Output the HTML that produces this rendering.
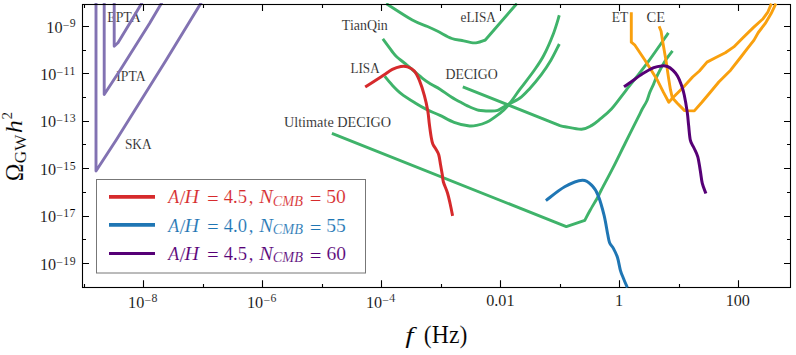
<!DOCTYPE html><html><head><meta charset="utf-8"><style>html,body{margin:0;padding:0;background:#fff;width:796px;height:355px;overflow:hidden}svg{display:block}text{font-family:"Liberation Serif",serif;stroke:#fff;stroke-width:0.13px}</style></head><body>
<svg width="796" height="355" viewBox="0 0 796 355">
<rect width="796" height="355" fill="#fff"/>
<text transform="translate(107.2 21.9) scale(0.98 1.03)" font-size="14.1" fill="#1a1a1a">EPTA</text>
<text transform="translate(116.31 81) scale(0.97 1.03)" font-size="14.1" fill="#1a1a1a">IPTA</text>
<text transform="translate(124.91 148.8) scale(0.95 1.03)" font-size="14.1" fill="#1a1a1a">SKA</text>
<text transform="translate(341.85 29.8) scale(0.99 1.03)" font-size="14.1" fill="#1a1a1a">TianQin</text>
<text transform="translate(460.58 21.8) scale(0.94 1.03)" font-size="14.1" fill="#1a1a1a">eLISA</text>
<text transform="translate(350.47 72.8) scale(0.93 1.03)" font-size="14.1" fill="#1a1a1a">LISA</text>
<text transform="translate(445.5 78.5) scale(0.98 1.03)" font-size="14.1" fill="#1a1a1a">DECIGO</text>
<text transform="translate(283.9 126.6) scale(1.01 1.03)" font-size="14.1" fill="#1a1a1a">Ultimate DECIGO</text>
<text transform="translate(611.71 21.5) scale(0.96 1.03)" font-size="14.1" fill="#1a1a1a">ET</text>
<text transform="translate(646.61 21.5) scale(1.03 1.03)" font-size="14.1" fill="#1a1a1a">CE</text>
<rect x="96.5" y="179.5" width="269" height="93.5" fill="#fff" stroke="#777" stroke-width="1"/>
<defs><clipPath id="cp"><rect x="82" y="3" width="709" height="285"/></clipPath></defs>
<g clip-path="url(#cp)" fill="none" stroke-linecap="butt">
<path d="M96 2.5 L96 171 L116.2 140 L166.2 60 L201.3 2.5" stroke="#8272b2" stroke-width="2.9" stroke-linejoin="round"/>
<path d="M104.2 2.5 L104.2 94.5 L120.4 69.8 L149.5 23.4 L161.9 2.5" stroke="#8272b2" stroke-width="2.9" stroke-linejoin="round"/>
<path d="M114.2 2.5 L114.2 46.3 L118 42.8 L130.4 22.3 L142.1 2.5" stroke="#8272b2" stroke-width="2.9" stroke-linejoin="round"/>
<path d="M386.1 3.5 C390.47 6.25 405.4 16.17 412.3 20 C419.2 23.83 423.27 24.62 427.5 26.5 C431.73 28.38 433.65 29.3 437.7 31.3 C441.75 33.3 447.75 36.97 451.8 38.5 C455.85 40.03 458.75 39.82 462 40.5 C465.25 41.18 468.77 42.25 471.3 42.6 C473.83 42.95 474.87 43.03 477.2 42.6 C479.53 42.17 483.95 40.43 485.3 40 L485.3 40 L516.9 3.5" stroke="#3fb36a" stroke-width="2.9" stroke-linejoin="round"/>
<path d="M382.8 38.9 C384.3 40.92 389.45 47.98 391.8 51 C394.15 54.02 394.65 54.88 396.9 57 C399.15 59.12 401.08 60.18 405.3 63.7 C409.52 67.22 417.97 74.72 422.2 78.1 C426.43 81.48 427.73 82.15 430.7 84 C433.67 85.85 436.57 87.05 440 89.2 C443.43 91.35 447.55 94.57 451.3 96.9 C455.05 99.23 459.22 101.43 462.5 103.2 C465.78 104.97 468.3 106.32 471 107.5 C473.7 108.68 477.42 109.83 478.7 110.3 L478.7 110.3 C480.47 110.42 486.13 111 489.3 111 C492.47 111 494.88 111.23 497.7 110.3 C500.52 109.37 502.55 107.4 506.2 105.4 C509.85 103.4 515.73 101.05 519.6 98.3 C523.47 95.55 525.78 92.85 529.4 88.9 C533.02 84.95 537.72 79.38 541.3 74.6 C544.88 69.82 547.9 65.3 550.9 60.2 C553.9 55.1 557.9 46.7 559.3 44" stroke="#3fb36a" stroke-width="2.9" stroke-linejoin="round"/>
<path d="M384.7 76.2 C385.8 77.52 388.57 81.2 391.3 84.1 C394.03 87 397.12 90.45 401.1 93.6 C405.08 96.75 410.97 100.37 415.2 103 C419.43 105.63 422.37 107.33 426.5 109.4 C430.63 111.47 435.4 113.25 440 115.4 C444.6 117.55 449.4 120.57 454.1 122.3 C458.8 124.03 464.45 125.28 468.2 125.8 C471.95 126.32 473.55 125.98 476.6 125.4 C479.65 124.82 482.73 124.23 486.5 122.3 C490.27 120.37 495.68 116.5 499.2 113.8 C502.72 111.1 504.13 110.2 507.6 106.1 C511.07 102 515.58 95.13 520 89.2 C524.42 83.27 530.15 76.12 534.1 70.5 C538.05 64.88 540.5 61.6 543.7 55.5 C546.9 49.4 550.7 40.6 553.3 33.9 C555.9 27.2 558.3 18.4 559.3 15.3" stroke="#3fb36a" stroke-width="2.9" stroke-linejoin="round"/>
<path d="M462.8 86.8 L560 125.6 L560 125.6 C560.85 125.78 561.5 126.1 565.1 126.7 C568.7 127.3 577.15 129.42 581.6 129.2 C586.05 128.98 588.83 126.98 591.8 125.4 C594.77 123.82 596.13 122.43 599.4 119.7 C602.67 116.97 607.08 113.73 611.4 109 C615.72 104.27 619.18 99.17 625.3 91.3 C631.42 83.43 640.92 71.53 648.1 61.8 C655.28 52.07 665.02 37.72 668.4 32.9" stroke="#3fb36a" stroke-width="2.9" stroke-linejoin="round"/>
<path d="M331.9 133.3 L566.3 226.6 L566.3 226.6 L584.8 220.3 L584.8 220.3 C585.67 218.67 587.75 214.52 590 210.5 C592.25 206.48 596.42 199.62 598.3 196.2 C600.18 192.78 598.9 194.63 601.3 190 C603.7 185.37 608.7 176.23 612.7 168.4 C616.7 160.57 621.08 151.45 625.3 143 C629.52 134.55 635.22 123.28 638 117.7 C640.78 112.12 640.53 112.28 642 109.5 C643.47 106.72 645.5 103.85 646.8 101 C648.1 98.15 648.65 95.25 649.8 92.4 C650.95 89.55 652.5 86.63 653.7 83.9 C654.9 81.17 655.18 79.7 657 76 C658.82 72.3 662.02 65.9 664.6 61.7 C667.18 57.5 671.18 52.62 672.5 50.8" stroke="#3fb36a" stroke-width="2.9" stroke-linejoin="round"/>
</g>
<rect x="82.5" y="4.5" width="708.0" height="283.0" fill="none" stroke="#000" stroke-width="1.1"/>
<path d="M84.5 287.5 V284 M84.5 4.5 V7.9 M143.5 287.5 V280.3 M143.5 4.5 V10.9 M203.5 287.5 V284 M203.5 4.5 V7.9 M262.5 287.5 V280.3 M262.5 4.5 V10.9 M322.5 287.5 V284 M322.5 4.5 V7.9 M381.5 287.5 V280.3 M381.5 4.5 V10.9 M441.5 287.5 V284 M441.5 4.5 V7.9 M500.5 287.5 V280.3 M500.5 4.5 V10.9 M560.5 287.5 V284 M560.5 4.5 V7.9 M619.5 287.5 V280.3 M619.5 4.5 V10.9 M679.5 287.5 V284 M679.5 4.5 V7.9 M738.5 287.5 V280.3 M738.5 4.5 V10.9 M82.5 287.5 H86 M790.5 287.5 H787 M82.5 263.5 H89 M790.5 263.5 H784 M82.5 239.5 H86 M790.5 239.5 H787 M82.5 216.5 H89 M790.5 216.5 H784 M82.5 192.5 H86 M790.5 192.5 H787 M82.5 168.5 H89 M790.5 168.5 H784 M82.5 144.5 H86 M790.5 144.5 H787 M82.5 121.5 H89 M790.5 121.5 H784 M82.5 97.5 H86 M790.5 97.5 H787 M82.5 73.5 H89 M790.5 73.5 H784 M82.5 50.5 H86 M790.5 50.5 H787 M82.5 26.5 H89 M790.5 26.5 H784" stroke="#000" stroke-width="1.1" fill="none"/>
<g clip-path="url(#cp)" fill="none" stroke-linecap="butt">
<path d="M631.3 12.2 L631.3 42.2 L634.6 44.8 L644.8 60 L649.7 67.8 L657.6 80.6 L663.5 92.4 L668.8 102.2 L672.8 97.8 L682.6 87.9 L692.6 77 L699.4 71 L707 62.1 L715.4 57.8 L725.3 52.8 L733.8 46.9 L742.2 38.4 L753.3 27.6 L763.1 18.7 L768 11.8 L771.4 3.6" stroke="#f9a00e" stroke-width="2.9" stroke-linejoin="round"/>
<path d="M659.1 26.2 L661.1 31.3 L662.5 40.5 L665.9 60 L668.5 77.6 L670.4 89.4 L672.3 97.8 L677.3 103.3 L684.6 110.6 L694.3 110.9 L701.9 102.3 L710.3 92.2 L718.8 82 L730.6 70.2 L740.5 57.5 L747.3 48.6 L754 40.1 L758.3 32.5 L765.1 23.7 L771 13.8 L775.9 3.6" stroke="#f9a00e" stroke-width="2.9" stroke-linejoin="round"/>
<path d="M365.2 87.1 C366.9 85.98 372.3 82.42 375.4 80.4 C378.5 78.38 380.98 76.83 383.8 75 C386.62 73.17 389.47 70.82 392.3 69.4 C395.13 67.98 398.27 66.93 400.8 66.5 C403.33 66.07 405.25 66.05 407.5 66.8 C409.75 67.55 412.32 68.73 414.3 71 C416.28 73.27 417.72 76.3 419.4 80.4 C421.08 84.5 423 90.5 424.4 95.6 C425.8 100.7 426.98 106.3 427.8 111 C428.62 115.7 428.75 119.53 429.3 123.8 C429.85 128.07 430.52 133.23 431.1 136.6 C431.68 139.97 431.97 141.85 432.8 144 C433.63 146.15 435.1 147.67 436.1 149.5 C437.1 151.33 438.05 152.42 438.8 155 C439.55 157.58 440.02 161.72 440.6 165 C441.18 168.28 441.83 171.87 442.3 174.7 C442.77 177.53 442.53 178.95 443.4 182 C444.27 185.05 446.37 189.33 447.5 193 C448.63 196.67 449.35 200.18 450.2 204 C451.05 207.82 452.2 213.92 452.6 215.9" stroke="#d62a2c" stroke-width="3.0" stroke-linejoin="round"/>
<path d="M545.9 200.6 C549.03 198.3 558.62 190.18 564.7 186.8 C570.78 183.42 577.8 180.47 582.4 180.3 C587 180.13 589.67 183.25 592.3 185.8 C594.93 188.35 596.23 190.67 598.2 195.6 C600.17 200.53 602.53 209.03 604.1 215.4 C605.67 221.77 606.68 229.25 607.6 233.8 C608.52 238.35 608.62 240.23 609.6 242.7 C610.58 245.17 612.18 246.13 613.5 248.6 C614.82 251.07 616.35 253.88 617.5 257.5 C618.65 261.12 619.42 266.85 620.4 270.3 C621.38 273.75 622.25 275.33 623.4 278.2 C624.55 281.07 626.65 285.95 627.3 287.5" stroke="#1f76b4" stroke-width="3.0" stroke-linejoin="round"/>
<path d="M624 86.7 C625.22 85.87 628.22 83.85 631.3 81.7 C634.38 79.55 638.75 76.15 642.5 73.8 C646.25 71.45 650.6 68.92 653.8 67.6 C657 66.28 659.43 66.08 661.7 65.9 C663.97 65.72 665.52 65.75 667.4 66.5 C669.28 67.25 671.32 68.82 673 70.4 C674.68 71.98 676.1 73.57 677.5 76 C678.9 78.43 680.27 81.8 681.4 85 C682.53 88.2 683.32 90.6 684.3 95.2 C685.28 99.8 686.58 107.6 687.3 112.6 C688.02 117.6 688.08 120.57 688.6 125.2 C689.12 129.83 689.5 136.6 690.4 140.4 C691.3 144.2 692.77 145.27 694 148 C695.23 150.73 696.75 153 697.8 156.8 C698.85 160.6 699.55 166.37 700.3 170.8 C701.05 175.23 701.37 179.62 702.3 183.4 C703.23 187.18 705.3 191.82 705.9 193.5" stroke="#560076" stroke-width="3.0" stroke-linejoin="round"/>
</g>
<g fill="#000"><text transform="translate(128.04 307.8) scale(1 1.075)" font-size="16.2">10<tspan font-size="11.8" dy="-2.8">−</tspan><tspan font-size="11.8" dy="-2.2" dx="0.6" letter-spacing="0.5">8</tspan></text><text transform="translate(246.99 307.8) scale(1 1.075)" font-size="16.2">10<tspan font-size="11.8" dy="-2.8">−</tspan><tspan font-size="11.8" dy="-2.2" dx="0.6" letter-spacing="0.5">6</tspan></text><text transform="translate(365.9 307.8) scale(1 1.075)" font-size="16.2">10<tspan font-size="11.8" dy="-2.8">−</tspan><tspan font-size="11.8" dy="-2.2" dx="0.6" letter-spacing="0.5">4</tspan></text><text transform="translate(486.2 306) scale(1 1.075)" font-size="16.2">0.01</text><text transform="translate(614.92 306) scale(1 1.075)" font-size="16.2">1</text><text transform="translate(725.65 306) scale(1 1.075)" font-size="16.2">100</text></g>
<g fill="#000"><text transform="translate(39.93 269.73) scale(1 1.075)" font-size="16.2">10<tspan font-size="11.8" dy="-2.6">−</tspan><tspan font-size="11.8" dy="-2.2" dx="0.6" letter-spacing="0.5">19</tspan></text><text transform="translate(39.79 222.31) scale(1 1.075)" font-size="16.2">10<tspan font-size="11.8" dy="-2.6">−</tspan><tspan font-size="11.8" dy="-2.2" dx="0.6" letter-spacing="0.5">17</tspan></text><text transform="translate(39.91 174.89) scale(1 1.075)" font-size="16.2">10<tspan font-size="11.8" dy="-2.6">−</tspan><tspan font-size="11.8" dy="-2.2" dx="0.6" letter-spacing="0.5">15</tspan></text><text transform="translate(39.91 127.47) scale(1 1.075)" font-size="16.2">10<tspan font-size="11.8" dy="-2.6">−</tspan><tspan font-size="11.8" dy="-2.2" dx="0.6" letter-spacing="0.5">13</tspan></text><text transform="translate(40.15 80.05) scale(1 1.075)" font-size="16.2">10<tspan font-size="11.8" dy="-2.6">−</tspan><tspan font-size="11.8" dy="-2.2" dx="0.6" letter-spacing="0.5">11</tspan></text><text transform="translate(46.33 32.63) scale(1 1.075)" font-size="16.2">10<tspan font-size="11.8" dy="-2.6">−</tspan><tspan font-size="11.8" dy="-2.2" dx="0.6" letter-spacing="0.5">9</tspan></text></g>
<text transform="translate(405.16 342.6) scale(1.25 1)" font-size="24" fill="#000" font-style="italic">f</text>
<text transform="translate(423.85 342.6) scale(0.98 1.05)" font-size="24.3" fill="#000">(Hz)</text>
<g fill="#000">
<text transform="rotate(-90) translate(-181.33 22.5) scale(0.95 1.03)" font-size="25">Ω</text>
<text transform="rotate(-90) translate(-163.2 25.8) scale(1.07 1)" font-size="16">GW</text>
<text transform="rotate(-90) translate(-133.15 22.2) scale(1.1 1)" font-size="24" font-style="italic">h</text>
<text transform="rotate(-90) translate(-119.56 12) scale(1 1)" font-size="15">2</text>
</g>
<path d="M109 196.86 H155" stroke="#d62a2c" stroke-width="3.8"/>
<text transform="translate(168.28 202.8) scale(0.96 1)" font-size="18.6" fill="#d62a2c" font-style="italic">A</text>
<text transform="translate(179.5 205.4) scale(1 1)" font-size="21.5" fill="#d62a2c">/</text>
<text transform="translate(184.42 202.8) scale(1.08 1)" font-size="18.6" fill="#d62a2c" font-style="italic">H</text>
<text transform="translate(206.96 204.6) scale(1.12 1)" font-size="18.6" fill="#d62a2c">=</text>
<text transform="translate(223.74 202.8) scale(1 1)" font-size="18.6" fill="#d62a2c">4.5</text>
<text transform="translate(248.69 202.8) scale(1 1)" font-size="18.6" fill="#d62a2c">,</text>
<text transform="translate(259.35 202.8) scale(1.1 1)" font-size="18.6" fill="#d62a2c" font-style="italic">N</text>
<text transform="translate(272.7 205.5) scale(1 1)" font-size="14.3" fill="#d62a2c" font-style="italic">CMB</text>
<text transform="translate(309.66 205.1) scale(1.12 1)" font-size="18.6" fill="#d62a2c">=</text>
<text transform="translate(326.16 203.1) scale(1.02 1)" font-size="19.2" fill="#d62a2c">50</text>
<path d="M109 224.86 H155" stroke="#1f76b4" stroke-width="3.8"/>
<text transform="translate(168.28 231.6) scale(0.96 1)" font-size="18.6" fill="#1f76b4" font-style="italic">A</text>
<text transform="translate(179.5 234.2) scale(1 1)" font-size="21.5" fill="#1f76b4">/</text>
<text transform="translate(184.42 231.6) scale(1.08 1)" font-size="18.6" fill="#1f76b4" font-style="italic">H</text>
<text transform="translate(206.96 233.4) scale(1.12 1)" font-size="18.6" fill="#1f76b4">=</text>
<text transform="translate(223.74 231.6) scale(1 1)" font-size="18.6" fill="#1f76b4">4.0</text>
<text transform="translate(248.69 231.6) scale(1 1)" font-size="18.6" fill="#1f76b4">,</text>
<text transform="translate(259.35 231.6) scale(1.1 1)" font-size="18.6" fill="#1f76b4" font-style="italic">N</text>
<text transform="translate(272.7 234.3) scale(1 1)" font-size="14.3" fill="#1f76b4" font-style="italic">CMB</text>
<text transform="translate(309.66 233.9) scale(1.12 1)" font-size="18.6" fill="#1f76b4">=</text>
<text transform="translate(326.16 231.9) scale(1.02 1)" font-size="19.2" fill="#1f76b4">55</text>
<path d="M109 253.5 H155" stroke="#560076" stroke-width="3.0"/>
<text transform="translate(168.28 259.6) scale(0.96 1)" font-size="18.6" fill="#560076" font-style="italic">A</text>
<text transform="translate(179.5 262.2) scale(1 1)" font-size="21.5" fill="#560076">/</text>
<text transform="translate(184.42 259.6) scale(1.08 1)" font-size="18.6" fill="#560076" font-style="italic">H</text>
<text transform="translate(206.96 261.4) scale(1.12 1)" font-size="18.6" fill="#560076">=</text>
<text transform="translate(223.74 259.6) scale(1 1)" font-size="18.6" fill="#560076">4.5</text>
<text transform="translate(248.69 259.6) scale(1 1)" font-size="18.6" fill="#560076">,</text>
<text transform="translate(259.35 259.6) scale(1.1 1)" font-size="18.6" fill="#560076" font-style="italic">N</text>
<text transform="translate(272.7 262.3) scale(1 1)" font-size="14.3" fill="#560076" font-style="italic">CMB</text>
<text transform="translate(309.66 261.9) scale(1.12 1)" font-size="18.6" fill="#560076">=</text>
<text transform="translate(326.46 259.9) scale(1.02 1)" font-size="19.2" fill="#560076">60</text>
</svg></body></html>
